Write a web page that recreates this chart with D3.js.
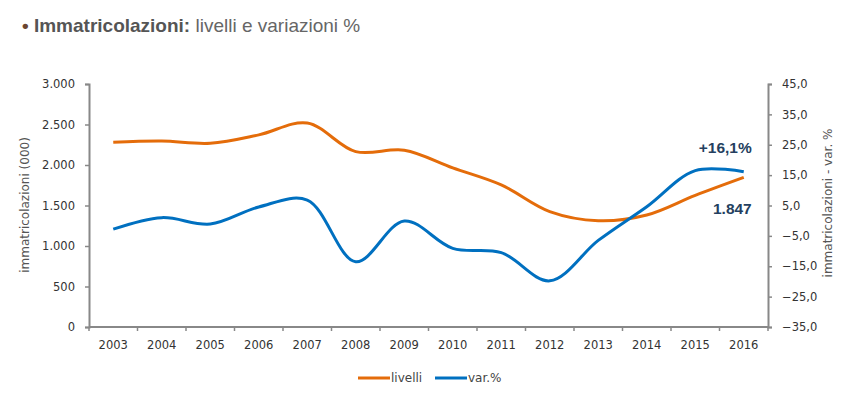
<!DOCTYPE html>
<html>
<head>
<meta charset="utf-8">
<script src="https://cdn.jsdelivr.net/npm/d3@7"></script>
<style>
body{margin:0;background:#fff}
svg{display:block}
</style>
</head>
<body>
<div class="chart"></div>
<script>
let years=['2003','2004','2005','2006','2007','2008','2009','2010','2011','2012','2013','2014','2015','2016']
let livelli=[2280,2295,2268,2372,2518,2165,2183,1965,1755,1425,1312,1383,1625,1847]
let varPct=[-2.8,1.0,-1.1,4.5,6.8,-13.5,-0.1,-9.1,-10.5,-19.8,-6.5,4.6,16.5,16.1]
let leftTicks=[0,500,1000,1500,2000,2500,3000]
let rightTicks=[-35,-25,-15,-5,5,15,25,35,45]

let w=850,h=397
let pLeft=89,pRight=768,pTop=84,pBottom=327
let font='DejaVu Sans, Verdana, sans-serif'

let svg=d3.select('.chart').append('svg').attr('width',w).attr('height',h)

// titolo
let title=svg.append('text').attr('x',22).attr('y',32).style('font-family','Liberation Sans, Arial, sans-serif').style('font-size','19px')
title.append('tspan').text('• ').attr('fill','#6b4630').style('font-weight','bold')
title.append('tspan').text('Immatricolazioni:').attr('fill','#555').style('font-weight','bold')
title.append('tspan').text(' livelli e variazioni %').attr('fill','#666')

let xScale=d3.scaleBand().domain(years).range([pLeft,pRight])
let yLeft=d3.scaleLinear().domain([0,3000]).range([pBottom,pTop])
let yRight=d3.scaleLinear().domain([-35,45]).range([pBottom,pTop])

let fmtL=d3.formatLocale({decimal:',',thousands:'.',grouping:[3]})
let leftAxis=d3.axisLeft(yLeft).tickValues(leftTicks).tickSize(4).tickPadding(10).tickFormat(fmtL.format(',d'))
let rightAxis=d3.axisRight(yRight).tickValues(rightTicks).tickSize(4).tickPadding(10).tickFormat(fmtL.format(',.1f'))
let xAxis=d3.axisBottom(xScale).tickSize(0).tickPadding(14)

let gx=svg.append('g').attr('transform','translate(0,'+pBottom+')').call(xAxis)
gx.selectAll('.tick line').remove()
// tacche tra le categorie
gx.selectAll('line.sep').data(years.concat(['end'])).enter().append('line').attr('class','sep')
  .attr('x1',(d,i)=>pLeft+i*xScale.step()).attr('x2',(d,i)=>pLeft+i*xScale.step())
  .attr('y1',0).attr('y2',4).attr('stroke','#888').attr('stroke-width',1.5)

let gl=svg.append('g').attr('transform','translate('+pLeft+',0)').call(leftAxis)
let gr=svg.append('g').attr('transform','translate('+pRight+',0)').call(rightAxis)

;[gx,gl,gr].forEach(g=>{
  g.select('.domain').attr('stroke','#888').attr('stroke-width',2)
  g.selectAll('.tick line').attr('stroke','#888').attr('stroke-width',1.5)
  g.selectAll('text').style('font-family',font).style('font-size','11.5px').attr('fill','#333')
})
gx.select('.domain').attr('d','M'+pLeft+',0H'+pRight)

// titoli assi
svg.append('text').text('immatricolazioni (000)').attr('transform','translate(29,205) rotate(-90)')
  .attr('text-anchor','middle').style('font-family',font).style('font-size','12px').attr('fill','#555')
svg.append('text').text('immatricolazioni - var. %').attr('transform','translate(832,203) rotate(-90)')
  .attr('text-anchor','middle').style('font-family',font).style('font-size','12px').attr('fill','#555')

let cx=d=>xScale(d)+xScale.bandwidth()/2
let lineL=d3.line().x((d,i)=>cx(years[i])).y(d=>yLeft(d)).curve(d3.curveCatmullRom.alpha(0.5))
let lineR=d3.line().x((d,i)=>cx(years[i])).y(d=>yRight(d)).curve(d3.curveCatmullRom.alpha(0.5))

svg.append('path').datum(livelli).attr('d',lineL).attr('fill','none').attr('stroke','#e46c0a').attr('stroke-width',3)
svg.append('path').datum(varPct).attr('d',lineR).attr('fill','none').attr('stroke','#0070c0').attr('stroke-width',3)

// etichette
let last=years.length-1
svg.append('text').text('+'+fmtL.format(',.1f')(varPct[last])+'%').attr('x',cx(years[last])+8).attr('y',yRight(varPct[last])-19)
  .attr('text-anchor','end').style('font-family','Liberation Sans, Arial, sans-serif').style('font-weight','bold').style('font-size','15.5px').attr('fill','#243f60')
svg.append('text').text(fmtL.format(',d')(livelli[last])).attr('x',cx(years[last])+8).attr('y',yLeft(livelli[last])+37)
  .attr('text-anchor','end').style('font-family','Liberation Sans, Arial, sans-serif').style('font-weight','bold').style('font-size','15.5px').attr('fill','#243f60')

// legenda
let legend=[{n:'livelli',c:'#e46c0a',x:358},{n:'var.%',c:'#0070c0',x:435}]
let lg=svg.selectAll('g.leg').data(legend).enter().append('g').attr('class','leg')
lg.append('line').attr('x1',d=>d.x).attr('x2',d=>d.x+32).attr('y1',378).attr('y2',378).attr('stroke',d=>d.c).attr('stroke-width',3)
lg.append('text').text(d=>d.n).attr('x',d=>d.x+33).attr('y',382).style('font-family',font).style('font-size','12px').attr('fill','#444')
</script>
</body>
</html>
